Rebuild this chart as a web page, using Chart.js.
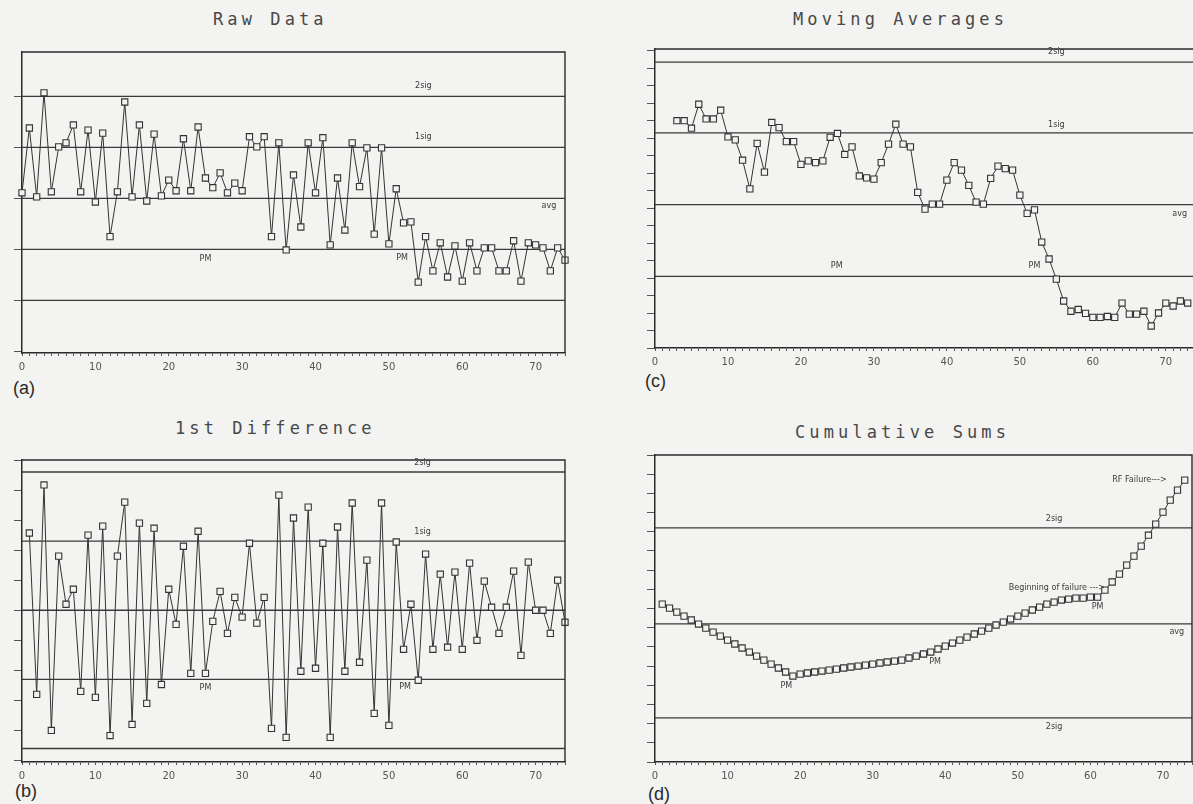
<!DOCTYPE html>
<html><head><meta charset="utf-8">
<script src="https://cdn.jsdelivr.net/npm/chart.js@4.4.0/dist/chart.umd.min.js"></script>
<style>
html,body{margin:0;padding:0;width:1193px;height:804px;overflow:hidden;background:#f3f3f1;position:relative;}
canvas{position:absolute;}
.title{position:absolute;font-family:"DejaVu Sans Mono",monospace;font-size:17px;letter-spacing:4.1px;color:#484848;line-height:17px;white-space:nowrap;}
.tag{position:absolute;font-family:"Liberation Sans",Arial,sans-serif;font-size:18px;color:#2a2a2a;line-height:18px;}
</style></head><body>
<div class="title" style="left:213px;top:11px">Raw Data</div>
<div class="title" style="left:175px;top:420px">1st Difference</div>
<div class="title" style="left:793px;top:11px">Moving Averages</div>
<div class="title" style="left:795px;top:424px">Cumulative Sums</div>
<div class="tag" style="left:13px;top:379px">(a)</div>
<div class="tag" style="left:15px;top:782px">(b)</div>
<div class="tag" style="left:645px;top:372px">(c)</div>
<div class="tag" style="left:648px;top:785px">(d)</div>
<canvas id="ca"></canvas><canvas id="cb"></canvas><canvas id="cc"></canvas><canvas id="cd"></canvas>
<script>
// ---------------- data ----------------
const xMax = 74;
const xLabelStep = 10;

// (a) raw data, starting at sample 0 (sigma units)
const rawStart = 0;
const rawValues = [0.11,1.38,0.03,2.07,0.13,1.01,1.09,1.44,0.13,1.34,
 -0.07,1.28,-0.75,0.13,1.89,0.03,1.44,-0.05,1.26,0.05,
 0.36,0.15,1.17,0.15,1.40,0.40,0.21,0.50,0.11,0.30,
 0.15,1.21,1.01,1.21,-0.75,1.09,-1.01,0.46,-0.56,1.09,
 0.11,1.19,-0.91,0.40,-0.62,1.09,0.23,0.99,-0.70,0.99,
 -0.89,0.19,-0.48,-0.46,-1.64,-0.75,-1.42,-0.87,-1.54,-0.93,
 -1.62,-0.87,-1.42,-0.97,-0.97,-1.42,-1.42,-0.83,-1.62,-0.87,
 -0.91,-0.97,-1.42,-0.97,-1.21];
const rawLevels = [2,1,0,-1,-2];
const rawRange = [-3.03, 2.87];

// (b) first difference, starting at sample 1
const diffStart = 1;
const diffValues = [2.57,-2.8,4.17,-4.0,1.8,0.2,0.7,-2.7,2.5,-2.9,
 2.8,-4.17,1.8,3.6,-3.8,2.9,-3.1,2.73,-2.47,0.7,
 -0.47,2.13,-2.1,2.63,-2.1,-0.37,0.63,-0.77,0.43,-0.23,
 2.23,-0.43,0.43,-3.93,3.83,-4.23,3.07,-2.03,3.43,-1.93,
 2.23,-4.23,2.77,-2.03,3.57,-1.73,1.67,-3.43,3.57,-3.83,
 2.27,-1.3,0.2,-2.33,1.87,-1.3,1.2,-1.23,1.27,-1.3,
 1.57,-1.0,0.97,0.1,-0.77,0.1,1.3,-1.5,1.6,0.0,
 0.0,-0.77,1.0,-0.4];
const diffLevels = [4.6,2.3,0,-2.3,-4.6];
const diffRange = [-5.05, 5.0];

// (c) moving averages, starting at sample 3
const maStart = 3;
const maValues = [13.0,13.0,12.57,13.94,13.1,13.1,13.6,12.07,11.9,10.74,
 9.1,11.7,10.06,12.9,12.6,11.8,11.8,10.5,10.7,10.6,
 10.7,12.05,12.27,11.07,11.5,9.84,9.73,9.66,10.6,11.66,
 12.8,11.66,11.5,8.9,7.94,8.23,8.23,9.6,10.6,10.17,
 9.3,8.34,8.23,9.7,10.4,10.26,10.17,8.74,7.7,7.9,
 6.06,5.09,3.94,2.69,2.1,2.2,1.98,1.75,1.75,1.8,
 1.75,2.57,1.94,1.94,2.1,1.26,2.0,2.57,2.4,2.69,2.57];
const maLevels = [16.35,12.3,8.2,4.1];
const maRange = [0, 17.1];

// (d) cumulative sums, starting at sample 1
const cusumStart = 1;
const cusumValues = [8.23,8.02,7.81,7.60,7.40,7.19,6.98,6.77,6.56,6.35,
 6.15,5.94,5.73,5.52,5.31,5.10,4.90,4.69,4.48,4.58,
 4.64,4.69,4.74,4.79,4.84,4.90,4.95,5.0,5.05,5.10,
 5.16,5.21,5.26,5.31,5.42,5.52,5.63,5.73,5.89,6.04,
 6.20,6.35,6.51,6.67,6.82,6.98,7.14,7.29,7.45,7.60,
 7.76,7.92,8.07,8.23,8.33,8.44,8.49,8.54,8.54,8.59,
 8.59,8.96,9.38,9.79,10.26,10.73,11.25,11.82,12.40,13.02,
 13.65,14.17,14.69];
const cusumLevels = [12.2,7.2,2.3];
const cusumRange = [0, 16.0];

// text annotations (data coordinates)
const rawNotes = [
 {t:'2sig',x:54.7,y:2,dy:-10},{t:'1sig',x:54.7,y:1,dy:-10},
 {t:'avg',x:71.8,y:0,dy:8},{t:'PM',x:25,y:-1,dy:9},{t:'PM',x:51.8,y:-1,dy:8}];
const diffNotes = [
 {t:'2sig',x:54.6,y:4.6,dy:-9},{t:'1sig',x:54.6,y:2.3,dy:-9},
 {t:'PM',x:25,y:-2.3,dy:9},{t:'PM',x:52.2,y:-2.3,dy:8}];
const maNotes = [
 {t:'2sig',x:55,y:16.35,dy:-10},{t:'1sig',x:55,y:12.3,dy:-8},
 {t:'avg',x:71.9,y:8.2,dy:9},{t:'PM',x:24.9,y:4.1,dy:-10},{t:'PM',x:52,y:4.1,dy:-10}];
const cusumNotes = [
 {t:'RF Failure--->',x:70.5,y:14.69,dy:0,a:'right'},
 {t:'2sig',x:55,y:12.2,dy:-9},
 {t:'Beginning of failure --->',x:62,y:9.06,dy:0,a:'right'},
 {t:'PM',x:61,y:8.1,dy:0},
 {t:'avg',x:71.9,y:7.2,dy:8},
 {t:'PM',x:38.6,y:5.2,dy:0},
 {t:'PM',x:18.1,y:3.96,dy:0},
 {t:'2sig',x:55,y:2.3,dy:9}];

// ---------------- drawing ----------------
const INK = '#333';
const PAPER = '#f3f3f1';

const framePlugin = {
  id: 'frame',
  afterDatasetsDraw(chart, args, opts) {
    const {ctx, chartArea: a, scales: {x, y}} = chart;
    ctx.save();
    ctx.strokeStyle = '#2b2b2b'; ctx.lineWidth = 1.4;
    ctx.beginPath(); ctx.moveTo(a.left, a.top); ctx.lineTo(a.right, a.top); ctx.lineTo(a.right, a.bottom); ctx.stroke();
    ctx.font = '8px "DejaVu Sans"'; ctx.fillStyle = '#3a3a3a'; ctx.textBaseline = 'middle';
    (opts.notes || []).forEach(n => {
      ctx.textAlign = n.a || 'center';
      ctx.fillText(n.t, x.getPixelForValue(n.x), y.getPixelForValue(n.y) + (n.dy || 0));
    });
    ctx.restore();
  }
};

function panel(id, area, range, start, values, levels, notes) {
  const cv = document.getElementById(id);
  const PL = 4, YW = 12, PT = 12, PR = 12, XH = 26;
  cv.width = area.r - area.l + PL + YW + PR;
  cv.height = area.b - area.t + PT + XH;
  cv.style.left = (area.l - PL - YW) + 'px';
  cv.style.top = (area.t - PT) + 'px';
  const datasets = levels.map(lv => ({
    data: [{x: 0, y: lv}, {x: xMax, y: lv}],
    borderColor: '#3a3a3a', borderWidth: 1.3, pointRadius: 0, order: 2, clip: false
  }));
  datasets.push({
    data: values.map((v, i) => ({x: i + start, y: v})),
    borderColor: INK, borderWidth: 1, pointStyle: 'rect', pointRadius: 4.4,
    pointBackgroundColor: PAPER, pointBorderColor: INK, pointBorderWidth: 1.1,
    order: 0, clip: false
  });
  new Chart(cv, {
    type: 'line',
    data: {datasets},
    plugins: [framePlugin],
    options: {
      responsive: false, animation: false,
      layout: {padding: {left: PL, top: PT, right: PR, bottom: 0}},
      plugins: {legend: {display: false}, tooltip: {enabled: false}, frame: {notes}},
      scales: {
        x: {type: 'linear', min: 0, max: xMax,
          afterFit: s => { s.height = XH; },
          ticks: {stepSize: 1, autoSkip: false, maxTicksLimit: 200, maxRotation: 0, includeBounds: false,
            callback: v => (v % xLabelStep === 0 ? String(v) : ''),
            font: {size: 10, family: 'DejaVu Sans'}, color: '#555', padding: 5},
          grid: {drawOnChartArea: false, drawTicks: true, tickLength: 3, color: '#555', lineWidth: 1},
          border: {display: true, color: '#2b2b2b', width: 1.5}},
        y: {type: 'linear', min: range[0], max: range[1],
          afterFit: s => { s.width = YW; },
          ticks: {display: false, stepSize: 1, includeBounds: false, maxTicksLimit: 100},
          grid: {drawOnChartArea: false, drawTicks: true, tickLength: 8, color: '#555', lineWidth: 1},
          border: {display: true, color: '#2b2b2b', width: 1.5}}
      }
    }
  });
}

panel('ca', {l: 22, t: 52, r: 565, b: 353}, rawRange, rawStart, rawValues, rawLevels, rawNotes);
panel('cb', {l: 22, t: 460, r: 565, b: 762}, diffRange, diffStart, diffValues, diffLevels, diffNotes);
panel('cc', {l: 655, t: 49, r: 1195, b: 348}, maRange, maStart, maValues, maLevels, maNotes);
panel('cd', {l: 655, t: 455, r: 1192, b: 762}, cusumRange, cusumStart, cusumValues, cusumLevels, cusumNotes);
</script>
</body></html>
